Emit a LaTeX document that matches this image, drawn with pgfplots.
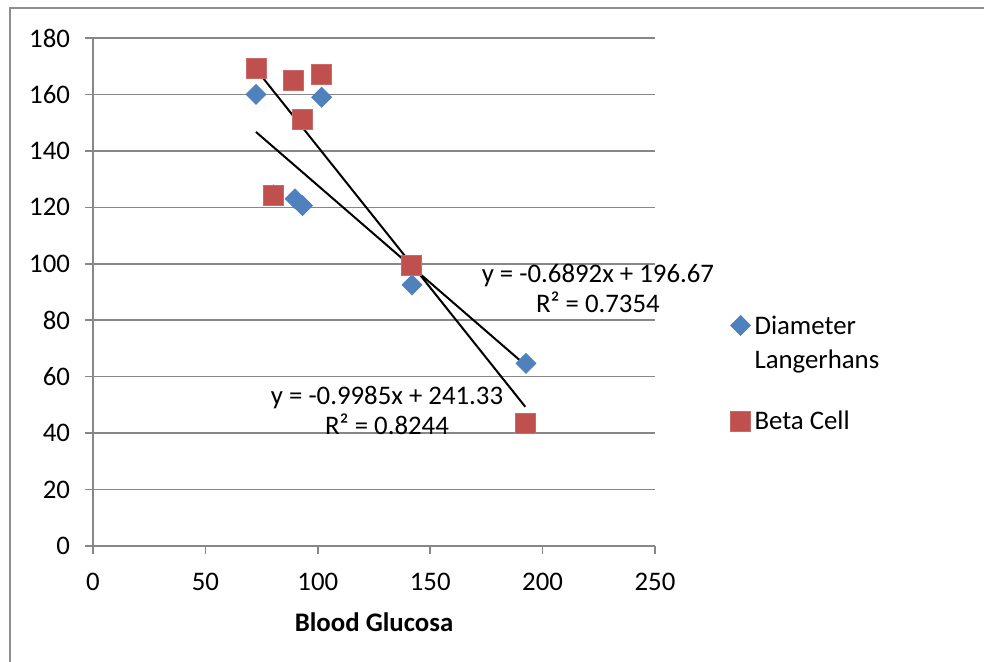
\documentclass[border=0pt]{standalone}
\usepackage{fontspec}
\setmainfont{Carlito}
\usepackage{pgfplots}
\pgfplotsset{compat=1.18}
\definecolor{exblue}{HTML}{4F81BD}
\definecolor{exred}{HTML}{C0504D}
\definecolor{gridgray}{HTML}{878787}
\definecolor{framegray}{HTML}{8E8E8E}
\begin{document}
\begin{tikzpicture}
\useasboundingbox (-46.5pt,-58pt) rectangle (445.5pt,273pt);
\begin{axis}[
  at={(0,0)}, anchor=south west,
  scale only axis, width=281pt, height=254pt,
  xmin=0, xmax=250, ymin=0, ymax=180,
  xtick={0,50,...,250}, ytick={0,20,...,180},
  axis x line=bottom, axis y line=left,
  axis line style={-, gridgray, line width=0.8pt},
  ymajorgrids, grid style={gridgray, line width=0.8pt},
  tick style={gridgray, line width=0.8pt},
  tick align=outside, major tick length=4pt,
  font=\fontsize{13.4}{17}\selectfont,
  /pgf/number format/assume math mode=true,
  xticklabel style={yshift=-6pt},
  yticklabel style={xshift=-4pt},
  xlabel={\textbf{Blood Glucosa}},
  xlabel style={yshift=-4pt},
  clip=false,
  legend style={draw=none, fill=none, at={(1.123,0.47)}, anchor=north west,
    cells={anchor=base west, align=left}, row sep=16pt, font=\fontsize{13.4}{17}\selectfont},
  legend image code/.code={\draw[#1] plot coordinates {(4pt,4.3pt)};},
]
\addplot[only marks, mark=square*, mark size=3.5pt, mark options={rotate=45, fill=exblue, draw=exblue},
  legend image post style={yshift=17pt}]
  coordinates {(72.5,160) (80.2,124.4) (89.9,123) (93.2,120.6) (101.7,159) (141.9,92.5) (192.6,64.7)};
\addlegendentry{Diameter\\Langerhans}
\addplot[only marks, mark=square*, mark size=5pt, mark options={fill=exred, draw=exred!85!white}]
  coordinates {(72.5,169.3) (80.2,124.4) (89.2,165.1) (93.2,151) (101.6,167.2) (141.7,99.3) (192.3,43.5)};
\addlegendentry{Beta Cell}
\addplot[black, line width=1pt, forget plot] coordinates {(72.5,146.70) (192.6,63.93)};
\addplot[black, line width=1pt, forget plot] coordinates {(72.5,168.94) (192.3,49.32)};
\node[align=center, font=\fontsize{13.4}{15}\selectfont] at (axis cs:224.6,91.4) {y = -0.6892x + 196.67\\R² = 0.7354};
\node[align=center, font=\fontsize{13.4}{15}\selectfont] at (axis cs:130.8,48.2) {y = -0.9985x + 241.33\\R² = 0.8244};
\end{axis}
\draw[framegray, line width=1pt] (-41.5pt,-60pt) -- (-41.5pt,269pt) -- (450pt,269pt);
\end{tikzpicture}
\end{document}
